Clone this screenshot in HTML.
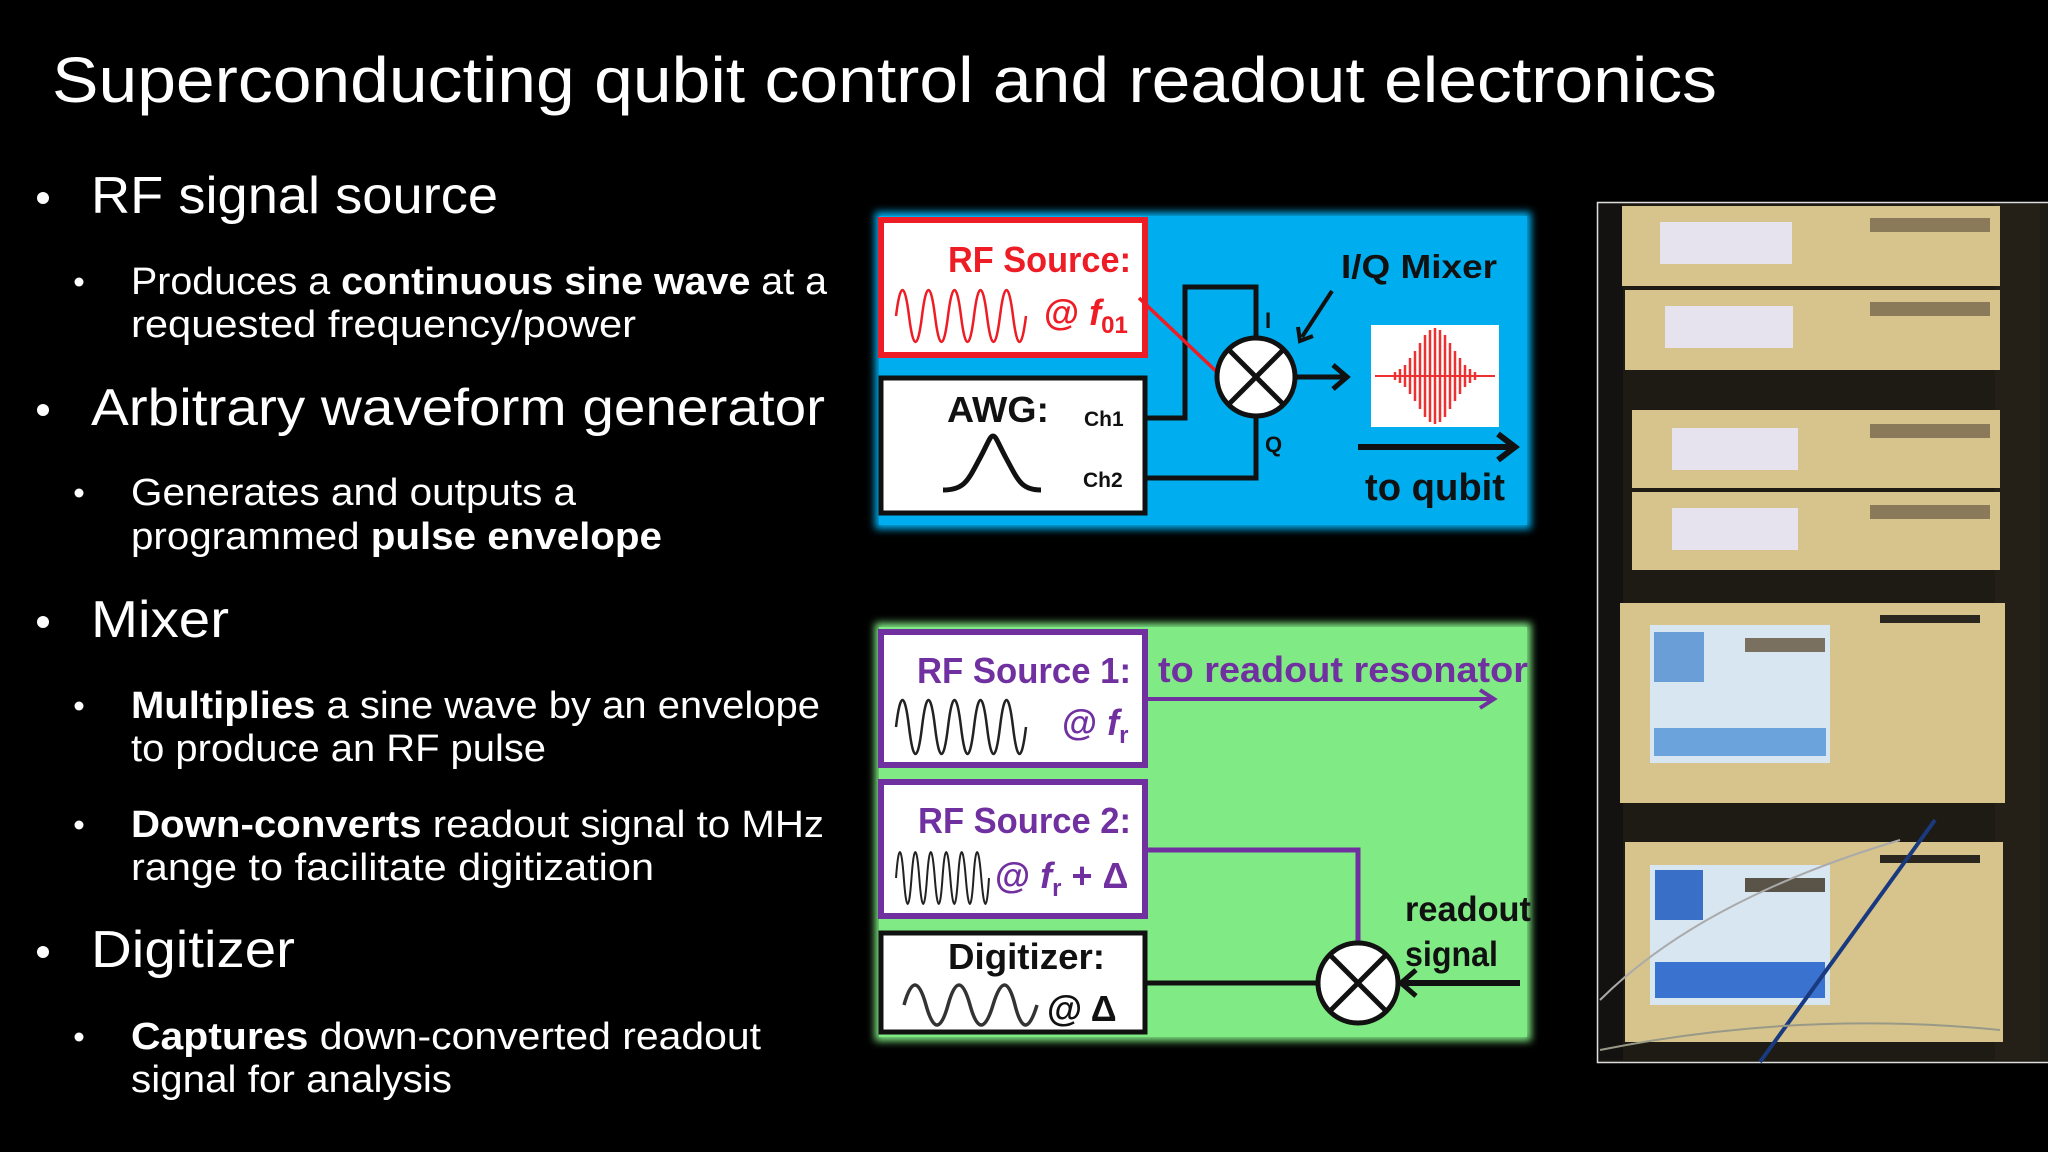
<!DOCTYPE html>
<html><head><meta charset="utf-8"><style>
html,body{margin:0;padding:0;background:#000;}
svg{display:block;}
.t{font-family:"Liberation Sans",sans-serif;fill:#fff;}
.d{font-family:"Liberation Sans",sans-serif;font-weight:bold;}
</style></head><body>
<svg width="2048" height="1152" viewBox="0 0 2048 1152" xmlns="http://www.w3.org/2000/svg">
<defs>
<filter id="glow" x="-5%" y="-5%" width="110%" height="110%"><feGaussianBlur stdDeviation="4"/></filter>
<marker id="ab" markerWidth="10" markerHeight="10" refX="7" refY="5" orient="auto" markerUnits="userSpaceOnUse"><path d="M0,0 L8,5 L0,10" fill="none" stroke="#000" stroke-width="2.5"/></marker>
</defs>
<rect width="2048" height="1152" fill="#000"/>
<text class="t" x="52" y="102" font-size="64" textLength="1665" lengthAdjust="spacingAndGlyphs">Superconducting qubit control and readout electronics</text>

<!-- bullets -->
<g class="t">
<circle cx="43" cy="198" r="6" fill="#fff"/>
<text class="t" x="91" y="213" font-size="52" textLength="407" lengthAdjust="spacingAndGlyphs">RF signal source</text>
<circle cx="79" cy="282" r="4.5" fill="#fff"/>
<text class="t" x="131" y="294" font-size="38" textLength="696" lengthAdjust="spacingAndGlyphs">Produces a <tspan font-weight="bold">continuous sine wave</tspan> at a</text>
<text class="t" x="131" y="337" font-size="38" textLength="505" lengthAdjust="spacingAndGlyphs">requested frequency/power</text>

<circle cx="43" cy="410" r="6" fill="#fff"/>
<text class="t" x="91" y="425" font-size="52" textLength="734" lengthAdjust="spacingAndGlyphs">Arbitrary waveform generator</text>
<circle cx="79" cy="493" r="4.5" fill="#fff"/>
<text class="t" x="131" y="505" font-size="38" textLength="445" lengthAdjust="spacingAndGlyphs">Generates and outputs a</text>
<text class="t" x="131" y="549" font-size="38" textLength="531" lengthAdjust="spacingAndGlyphs">programmed <tspan font-weight="bold">pulse envelope</tspan></text>

<circle cx="43" cy="622" r="6" fill="#fff"/>
<text class="t" x="91" y="637" font-size="52" textLength="138" lengthAdjust="spacingAndGlyphs">Mixer</text>
<circle cx="79" cy="706" r="4.5" fill="#fff"/>
<text class="t" x="131" y="718" font-size="38" textLength="689" lengthAdjust="spacingAndGlyphs"><tspan font-weight="bold">Multiplies</tspan> a sine wave by an envelope</text>
<text class="t" x="131" y="761" font-size="38" textLength="415" lengthAdjust="spacingAndGlyphs">to produce an RF pulse</text>
<circle cx="79" cy="825" r="4.5" fill="#fff"/>
<text class="t" x="131" y="837" font-size="38" textLength="693" lengthAdjust="spacingAndGlyphs"><tspan font-weight="bold">Down-converts</tspan> readout signal to MHz</text>
<text class="t" x="131" y="880" font-size="38" textLength="523" lengthAdjust="spacingAndGlyphs">range to facilitate digitization</text>

<circle cx="43" cy="952" r="6" fill="#fff"/>
<text class="t" x="91" y="967" font-size="52" textLength="204" lengthAdjust="spacingAndGlyphs">Digitizer</text>
<circle cx="79" cy="1037" r="4.5" fill="#fff"/>
<text class="t" x="131" y="1049" font-size="38" textLength="630" lengthAdjust="spacingAndGlyphs"><tspan font-weight="bold">Captures</tspan> down-converted readout</text>
<text class="t" x="131" y="1092" font-size="38" textLength="321" lengthAdjust="spacingAndGlyphs">signal for analysis</text>
</g>

<!-- Blue panel -->
<rect x="875" y="212" width="656" height="317" fill="#00aeef" filter="url(#glow)"/>
<rect x="879" y="216" width="648" height="309" fill="#00aeef"/>
<rect x="881" y="220" width="264" height="135" fill="#fff" stroke="#ee1c24" stroke-width="6"/>
<text class="d" x="1131" y="272" font-size="36" fill="#ee1c24" text-anchor="end" textLength="183" lengthAdjust="spacingAndGlyphs">RF Source:</text>
<path d="M896,316 Q902.5,264 909,316 T922,316 T935,316 T948,316 T961,316 T974,316 T987,316 T1000,316 T1013,316 T1026,316" fill="none" stroke="#ee1c24" stroke-width="2.5"/>
<text class="d" x="1044" y="325" font-size="36" fill="#ee1c24">@ <tspan font-style="italic">f</tspan><tspan font-size="24" dy="8">01</tspan></text>
<rect x="881" y="378" width="264" height="135" fill="#fff" stroke="#111" stroke-width="5"/>
<text class="d" x="947" y="422" font-size="36" fill="#111" textLength="102" lengthAdjust="spacingAndGlyphs">AWG:</text>
<text class="d" x="1084" y="426" font-size="21" fill="#111">Ch1</text>
<text class="d" x="1083" y="487" font-size="21" fill="#111">Ch2</text>
<path d="M943,490 C965,490 968,480 980,458 C988,443 990,436 993,436 C996,436 998,443 1006,458 C1018,480 1021,490 1041,490" fill="none" stroke="#111" stroke-width="5"/>
<path d="M1147,418 H1185 V287 H1256 V338" fill="none" stroke="#111" stroke-width="5"/>
<path d="M1147,478 H1256 V416" fill="none" stroke="#111" stroke-width="5"/>
<line x1="1139" y1="298" x2="1219" y2="374" stroke="#ee1c24" stroke-width="3.5"/>
<circle cx="1256" cy="377" r="39" fill="#fff" stroke="#111" stroke-width="5"/>
<line x1="1229" y1="350" x2="1283" y2="404" stroke="#111" stroke-width="5"/>
<line x1="1283" y1="350" x2="1229" y2="404" stroke="#111" stroke-width="5"/>
<text class="d" x="1265" y="328" font-size="22" fill="#111">I</text>
<text class="d" x="1265" y="452" font-size="22" fill="#111">Q</text>
<line x1="1296" y1="377" x2="1345" y2="377" stroke="#111" stroke-width="5"/>
<path d="M1333,365 L1347,377 L1333,389" fill="none" stroke="#111" stroke-width="5"/>
<text class="d" x="1341" y="278" font-size="33" fill="#111" textLength="156" lengthAdjust="spacingAndGlyphs">I/Q Mixer</text>
<line x1="1332" y1="291" x2="1302" y2="337" stroke="#111" stroke-width="4"/>
<path d="M1298,327 L1300,341 L1313,336" fill="none" stroke="#111" stroke-width="4"/>
<rect x="1371" y="325" width="128" height="102" fill="#fff"/>
<line x1="1375" y1="376" x2="1495" y2="376" stroke="#ee3030" stroke-width="2"/>
<g stroke="#ee3030" stroke-width="2.5">
<line x1="1395" y1="372" x2="1395" y2="380"/><line x1="1400" y1="369" x2="1400" y2="383"/>
<line x1="1405" y1="365" x2="1405" y2="387"/><line x1="1410" y1="358" x2="1410" y2="394"/>
<line x1="1415" y1="351" x2="1415" y2="401"/><line x1="1420" y1="343" x2="1420" y2="409"/>
<line x1="1425" y1="335" x2="1425" y2="417"/><line x1="1430" y1="330" x2="1430" y2="422"/>
<line x1="1435" y1="328" x2="1435" y2="424"/><line x1="1440" y1="330" x2="1440" y2="422"/>
<line x1="1445" y1="335" x2="1445" y2="417"/><line x1="1450" y1="343" x2="1450" y2="409"/>
<line x1="1455" y1="351" x2="1455" y2="401"/><line x1="1460" y1="358" x2="1460" y2="394"/>
<line x1="1465" y1="365" x2="1465" y2="387"/><line x1="1470" y1="369" x2="1470" y2="383"/>
<line x1="1475" y1="372" x2="1475" y2="380"/>
</g>
<line x1="1358" y1="447" x2="1512" y2="447" stroke="#111" stroke-width="6"/>
<path d="M1498,434 L1515,447 L1498,460" fill="none" stroke="#111" stroke-width="6"/>
<text class="d" x="1365" y="500" font-size="38" fill="#111" textLength="140" lengthAdjust="spacingAndGlyphs">to qubit</text>

<!-- Green panel -->
<rect x="875" y="623" width="656" height="418" fill="#80ea84" filter="url(#glow)"/>
<rect x="879" y="627" width="648" height="410" fill="#80ea84"/>
<rect x="881" y="632" width="264" height="133" fill="#fff" stroke="#7030a0" stroke-width="6"/>
<text class="d" x="1131" y="683" font-size="36" fill="#7030a0" text-anchor="end" textLength="214" lengthAdjust="spacingAndGlyphs">RF Source 1:</text>
<path d="M896,727 Q902.5,673 909,727 T922,727 T935,727 T948,727 T961,727 T974,727 T987,727 T1000,727 T1013,727 T1026,727" fill="none" stroke="#222" stroke-width="2.5"/>
<text class="d" x="1062" y="735" font-size="36" fill="#7030a0">@ <tspan font-style="italic">f</tspan><tspan font-size="24" dy="8">r</tspan></text>
<text class="d" x="1158" y="682" font-size="36" fill="#7030a0" textLength="370" lengthAdjust="spacingAndGlyphs">to readout resonator</text>
<line x1="1147" y1="699" x2="1492" y2="699" stroke="#7030a0" stroke-width="4"/>
<path d="M1480,690 L1494,699 L1480,708" fill="none" stroke="#7030a0" stroke-width="4"/>
<rect x="881" y="782" width="264" height="134" fill="#fff" stroke="#7030a0" stroke-width="6"/>
<text class="d" x="1131" y="833" font-size="36" fill="#7030a0" text-anchor="end" textLength="213" lengthAdjust="spacingAndGlyphs">RF Source 2:</text>
<path d="M896,878 Q899.9,826 903.8,878 T911.5,878 T919.3,878 T927,878 T934.8,878 T942.5,878 T950.3,878 T958,878 T965.8,878 T973.5,878 T981.3,878 T989,878" fill="none" stroke="#222" stroke-width="2"/>
<text class="d" x="995" y="888" font-size="36" fill="#7030a0">@ <tspan font-style="italic">f</tspan><tspan font-size="24" dy="8">r</tspan><tspan dy="-8"> + Δ</tspan></text>
<path d="M1147,850 H1358 V943" fill="none" stroke="#7030a0" stroke-width="5"/>
<rect x="881" y="933" width="264" height="99" fill="#fff" stroke="#111" stroke-width="5"/>
<text class="d" x="948" y="969" font-size="36" fill="#111" textLength="157" lengthAdjust="spacingAndGlyphs">Digitizer:</text>
<path d="M904,1005 Q915,965 926,1005 T948,1005 T970,1005 T993,1005 T1015,1005 T1037,1005" fill="none" stroke="#333" stroke-width="3.5"/>
<text class="d" x="1047" y="1021" font-size="36" fill="#111">@ Δ</text>
<line x1="1147" y1="983" x2="1318" y2="983" stroke="#111" stroke-width="5"/>
<circle cx="1358" cy="983" r="40" fill="#fff" stroke="#111" stroke-width="5"/>
<line x1="1330" y1="955" x2="1386" y2="1011" stroke="#111" stroke-width="5"/>
<line x1="1386" y1="955" x2="1330" y2="1011" stroke="#111" stroke-width="5"/>
<line x1="1402" y1="983" x2="1520" y2="983" stroke="#111" stroke-width="6"/>
<path d="M1416,970 L1401,983 L1416,996" fill="none" stroke="#111" stroke-width="5"/>
<text class="d" x="1405" y="921" font-size="35" fill="#111" textLength="126" lengthAdjust="spacingAndGlyphs">readout</text>
<text class="d" x="1405" y="966" font-size="35" fill="#111" textLength="93" lengthAdjust="spacingAndGlyphs">signal</text>

<!-- Photo -->
<rect x="1597.5" y="202.5" width="460" height="860" fill="#1e1a14" stroke="#ddd" stroke-width="1.5"/>
<rect x="1599" y="204" width="24" height="856" fill="#141210"/>
<rect x="1995" y="204" width="45" height="856" fill="#242018"/>
<g fill="#d7c48c">
<rect x="1622" y="206" width="378" height="80"/>
<rect x="1625" y="290" width="375" height="80"/>
<rect x="1632" y="410" width="368" height="78"/>
<rect x="1632" y="492" width="368" height="78"/>
<rect x="1620" y="603" width="385" height="200"/>
<rect x="1625" y="842" width="378" height="200"/>
</g>
<g fill="#e6e2ee">
<rect x="1660" y="222" width="132" height="42"/>
<rect x="1665" y="306" width="128" height="42"/>
<rect x="1672" y="428" width="126" height="42"/>
<rect x="1672" y="508" width="126" height="42"/>
</g>
<rect x="1650" y="625" width="180" height="138" fill="#d8e6f2"/>
<rect x="1654" y="632" width="50" height="50" fill="#6a9ed6"/>
<rect x="1654" y="728" width="172" height="28" fill="#6ba3dc"/>
<rect x="1745" y="638" width="80" height="14" fill="#7a7060"/>
<rect x="1650" y="865" width="180" height="140" fill="#d8e6f2"/>
<rect x="1655" y="870" width="48" height="50" fill="#3a6fc8"/>
<rect x="1655" y="962" width="170" height="36" fill="#3a72d0"/>
<rect x="1745" y="878" width="80" height="14" fill="#5a5448"/>
<g fill="#8a7a5a">
<rect x="1870" y="218" width="120" height="14"/><rect x="1870" y="302" width="120" height="14"/>
<rect x="1870" y="424" width="120" height="14"/><rect x="1870" y="505" width="120" height="14"/>
<rect x="1880" y="615" width="100" height="8" fill="#2a2620"/><rect x="1880" y="855" width="100" height="8" fill="#2a2620"/>
</g>
<line x1="1935" y1="820" x2="1760" y2="1062" stroke="#1a3a80" stroke-width="4"/>
<path d="M1600,1000 Q1700,900 1900,840" fill="none" stroke="#aaa" stroke-width="2"/>
<path d="M1600,1050 Q1800,1010 2000,1030" fill="none" stroke="#998" stroke-width="2"/>
</svg>
</body></html>
